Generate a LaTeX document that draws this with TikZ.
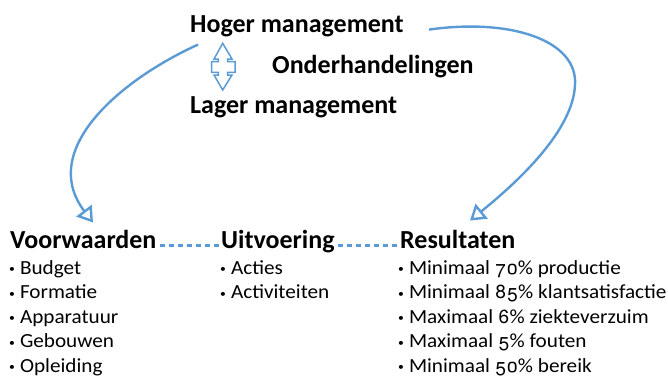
\documentclass[tikz,border=0pt]{standalone}
\usepackage{fontspec}
\setmainfont{Carlito}
\newfontfamily\itemfont{Carlito}[FakeStretch=1.06]
\newfontfamily\oldnum{TeX Gyre Heros}[Numbers=OldStyle]
\usetikzlibrary{arrows.meta}
\definecolor{lnblue}{RGB}{91,155,213}
\newcommand{\bul}{\raisebox{1.3pt}{\fontsize{11}{11}\selectfont •}\hspace{5pt}}
\newcommand{\on}[1]{{\oldnum\fontsize{19}{22}\selectfont #1}}
\begin{document}
\begin{tikzpicture}[x=1pt,y=-1pt,
  head/.style={font=\fontsize{26}{30}\selectfont\bfseries, inner sep=0, anchor=base west},
  item/.style={font=\itemfont\fontsize{20}{22}\selectfont, inner sep=0, anchor=base west},
  conn/.style={draw=lnblue, line width=2.4pt, -{Triangle[open,length=15pt,width=19pt]}},
  dots/.style={draw=lnblue, line width=2.4pt, dash pattern=on 5pt off 4pt, shorten <=3pt, shorten >=2pt},
  dblarrow/.style={draw=lnblue, line width=1.5pt, line join=miter}]
\useasboundingbox (0,0) rectangle (668,378);
\clip (0,0) rectangle (668,378);
\node[head] (hoger) at (190,32) {Hoger management};
\node[head] (onder) at (272,73) {Onderhandelingen};
\node[head] (lager) at (190,113) {Lager management};
\node[head] (voor) at (10,248) {Voorwaarden};
\node[head] (uitv) at (221,248) {Uitvoering};
\node[head] (res) at (400,248) {Resultaten};
% items
\node[item] (v1) at (9,274) {\bul Budget};
\node[item] (v2) at (9,298.5) {\bul Formatie};
\node[item] (v3) at (9,323) {\bul Apparatuur};
\node[item] (v4) at (9,347.5) {\bul Gebouwen};
\node[item] (v5) at (9,372) {\bul Opleiding};
\node[item] (u1) at (220,274) {\bul Acties};
\node[item] (u2) at (220,298.5) {\bul Activiteiten};
\node[item] (r1) at (398,274) {\bul Minimaal \on{70}\% productie};
\node[item] (r2) at (398,298.5) {\bul Minimaal \on{85}\% klantsatisfactie};
\node[item] (r3) at (398,323) {\bul Maximaal \on{6}\% ziekteverzuim};
\node[item] (r4) at (398,347.5) {\bul Maximaal \on{5}\% fouten};
\node[item] (r5) at (398,372) {\bul Minimaal \on{50}\% bereik};
% double arrow between management levels
\draw[dblarrow] (222.7,43.3) -- (232,59) -- (227.7,59) -- (227.7,61.7) -- (235,61.7) -- (235,72.3) -- (227.7,72.3) -- (227.7,75) -- (232,75) -- (222.7,90) -- (214,75) -- (218.3,75) -- (218.3,72.3) -- (211.7,72.3) -- (211.7,61.7) -- (218.3,61.7) -- (218.3,59) -- (214,59) -- cycle;
% curved connectors
\draw[conn] ([shift={(8,8)}]hoger.south west) .. controls (120,80) and (38,150) .. ([shift={(83,-7)}]voor.north west);
\draw[conn] ([xshift=25]hoger.mid east) .. controls (510,18) and (578,40) .. (575,85) .. controls (573,130) and (520,180) .. ([shift={(70,-9)}]res.north west);
% dashed links
\draw[dots] (voor.mid east) -- (uitv.mid west);
\draw[dots] (uitv.mid east) -- (res.mid west);
\end{tikzpicture}
\end{document}
